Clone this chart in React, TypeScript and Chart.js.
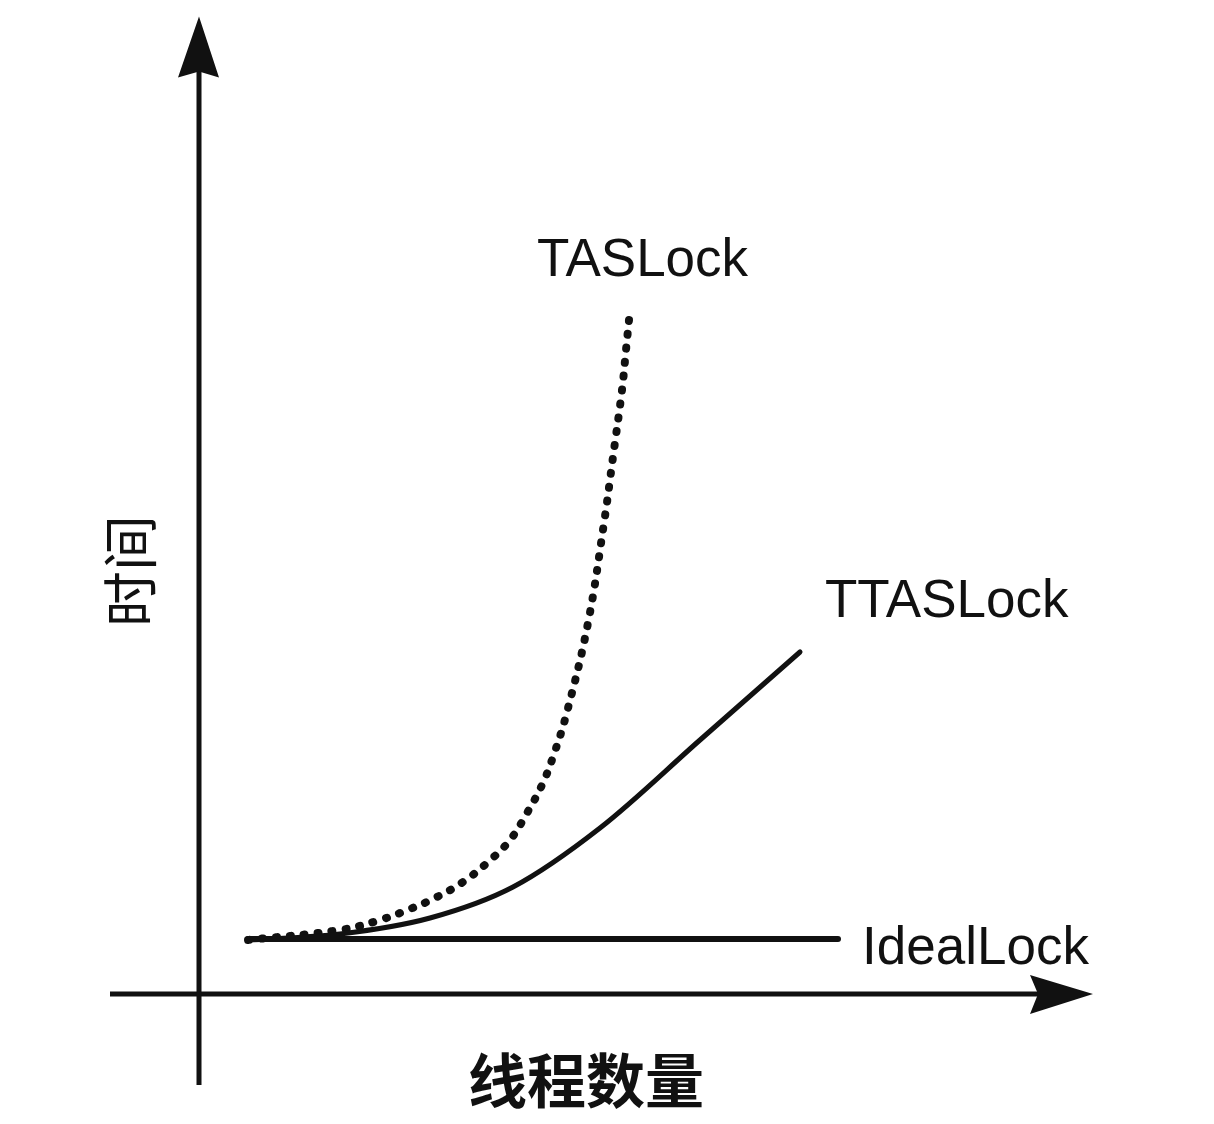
import React, { useEffect, useRef } from "react";
import { Chart, registerables } from "chart.js";

Chart.register(...registerables);

// Thread count (x) and time (y), arbitrary units, origin of the axes at (0, 0)
const idealThreads = [0.98, 12.78];
const idealTime = [1.1, 1.1];

const ttasThreads = [0.98, 2.82, 4.62, 6.28, 8.02, 10.02, 12.02];
const ttasTime = [1.08, 1.2, 1.52, 2.14, 3.32, 5.08, 6.84];

const tasThreads = [0.98, 2.82, 3.62, 4.22, 4.76, 5.28, 5.76, 6.22, 6.56, 6.86, 7.08, 7.36, 7.78, 8.1, 8.28, 8.46, 8.54, 8.62];
const tasTime = [1.08, 1.28, 1.48, 1.7, 1.94, 2.24, 2.62, 3.08, 3.62, 4.18, 4.74, 5.64, 7.42, 9.42, 10.74, 12.08, 12.88, 13.68];

const seriesNames = ["IdealLock", "TTASLock", "TASLock"];
const xTitle = "线程数量";
const yTitle = "时间";

const toPoints = (xs: number[], ys: number[]) => xs.map((v, i) => ({ x: v, y: ys[i] }));

export default function App() {
  const ref = useRef<HTMLCanvasElement | null>(null);

  useEffect(() => {
    document.body.style.margin = "0";
    const canvas = ref.current;
    if (!canvas) return;
    const ink = "#111111";

    const axesPlugin = {
      id: "axesAndLabels",
      beforeDatasetsDraw(chart: any) {
        const { ctx, scales } = chart;
        const xs = scales.x;
        const ys = scales.y;
        const ox = xs.getPixelForValue(0);
        const oy = ys.getPixelForValue(0);
        const xl = xs.getPixelForValue(-1.78);
        const xr = xs.getPixelForValue(17.88);
        const yb = ys.getPixelForValue(-1.82);
        const yt = ys.getPixelForValue(19.55);
        ctx.save();
        ctx.strokeStyle = ink;
        ctx.fillStyle = ink;
        ctx.lineWidth = 5;
        ctx.lineCap = "butt";
        ctx.beginPath();
        ctx.moveTo(xl, oy);
        ctx.lineTo(xr - 40, oy);
        ctx.stroke();
        ctx.beginPath();
        ctx.moveTo(ox, yb);
        ctx.lineTo(ox, yt + 40);
        ctx.stroke();
        ctx.beginPath();
        ctx.moveTo(xr, oy);
        ctx.lineTo(xr - 63, oy - 19);
        ctx.lineTo(xr - 55, oy);
        ctx.lineTo(xr - 63, oy + 20);
        ctx.closePath();
        ctx.fill();
        ctx.beginPath();
        ctx.moveTo(ox, yt);
        ctx.lineTo(ox - 21, yt + 61);
        ctx.lineTo(ox, yt + 55);
        ctx.lineTo(ox + 20, yt + 61);
        ctx.closePath();
        ctx.fill();
        ctx.restore();
      },
      afterDatasetsDraw(chart: any) {
        const { ctx, scales } = chart;
        const xs = scales.x;
        const ys = scales.y;
        const px = (v: number) => xs.getPixelForValue(v);
        const py = (v: number) => ys.getPixelForValue(v);
        ctx.save();
        ctx.fillStyle = ink;
        ctx.textAlign = "left";
        ctx.textBaseline = "alphabetic";
        ctx.font = "53px 'Liberation Sans', Arial, sans-serif";
        ctx.fillText(seriesNames[2], px(6.76), py(14.36));
        ctx.fillText(seriesNames[1], px(12.52), py(7.54));
        ctx.fillText(seriesNames[0], px(13.26), py(0.6));
        ctx.font = "bold 59px 'Noto Sans CJK SC', sans-serif";
        ctx.textAlign = "center";
        ctx.textBaseline = "middle";
        ctx.fillText(xTitle, px(7.74), py(-1.74));
        ctx.save();
        ctx.translate(px(-1.38), py(8.46));
        ctx.rotate(-Math.PI / 2);
        ctx.font = "56px 'Noto Sans CJK SC', sans-serif";
        ctx.fillText(yTitle, 0, 0);
        ctx.restore();
        ctx.restore();
      },
    };

    const chart = new Chart(canvas, {
      type: "line",
      data: {
        datasets: [
          {
            label: seriesNames[0],
            data: toPoints(idealThreads, idealTime),
            borderColor: ink,
            borderWidth: 6,
            borderCapStyle: "round",
            pointRadius: 0,
            tension: 0,
          },
          {
            label: seriesNames[1],
            data: toPoints(ttasThreads, ttasTime),
            borderColor: ink,
            borderWidth: 5,
            borderCapStyle: "round",
            pointRadius: 0,
            cubicInterpolationMode: "monotone",
          },
          {
            label: seriesNames[2],
            data: toPoints(tasThreads, tasTime),
            borderColor: ink,
            borderWidth: 8,
            borderCapStyle: "round",
            borderDash: [1, 13],
            pointRadius: 0,
            tension: 0.4,
          },
        ],
      },
      options: {
        responsive: false,
        animation: false,
        layout: { padding: 0 },
        plugins: { legend: { display: false }, tooltip: { enabled: false } },
        scales: {
          x: { type: "linear", min: -3.98, max: 20.3, display: false },
          y: { type: "linear", min: -2.6, max: 19.88, display: false },
        },
      },
      plugins: [axesPlugin],
    } as any);

    return () => chart.destroy();
  }, []);

  return (
    <div style={{ width: 1214, height: 1124, background: "#fff" }}>
      <canvas ref={ref} width={1214} height={1124} />
    </div>
  );
}
